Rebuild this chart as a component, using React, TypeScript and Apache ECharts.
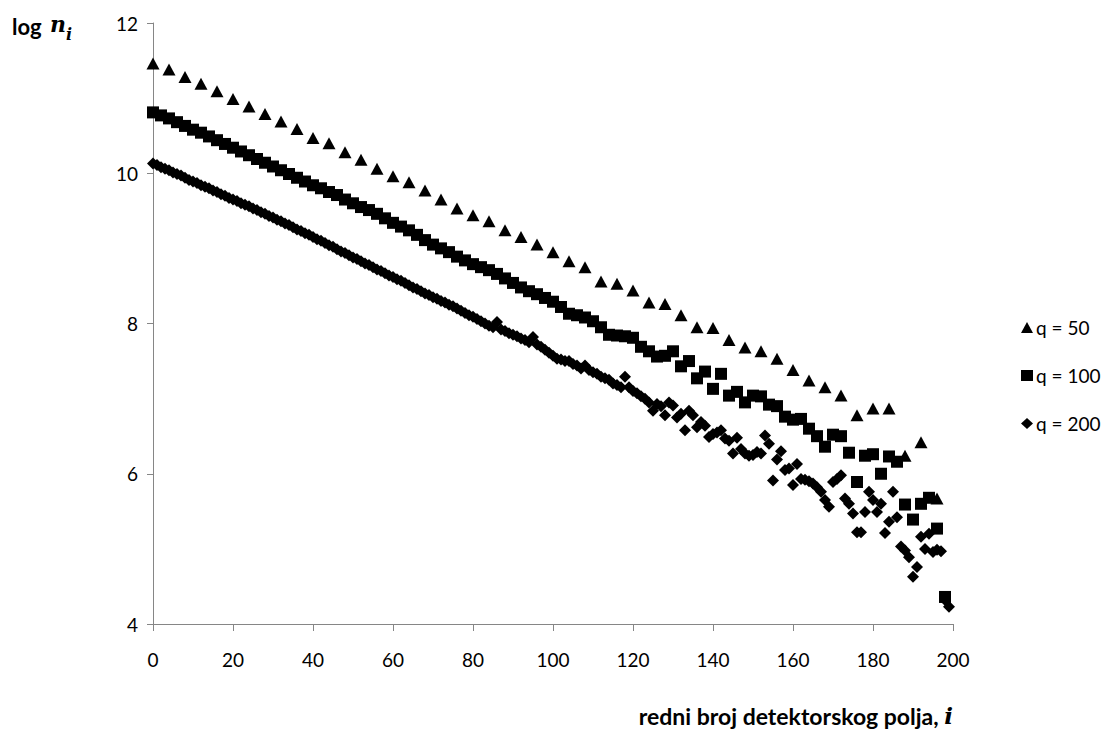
import React, { useEffect, useRef } from "react";
import * as echarts from "echarts";

// x-axis tick labels: 0..200 step 20; y-axis: 4..12 step 2
const xTicks = [0, 20, 40, 60, 80, 100, 120, 140, 160, 180, 200];
const yTicks = [4, 6, 8, 10, 12];

const seriesNames = ["q = 50", "q = 100", "q = 200"];
const seriesSteps = [4, 2, 1]; // detector-field index spacing per series

// q = 50 (triangles), i = 0, 4, ..., 196
const q50 = [
  11.46, 11.38, 11.28, 11.19, 11.09, 10.99, 10.89, 10.79, 10.69, 10.59,
  10.47, 10.4, 10.28, 10.18, 10.06, 9.96, 9.88, 9.77, 9.65, 9.53,
  9.44, 9.36, 9.24, 9.15, 9.05, 8.95, 8.83, 8.75, 8.56, 8.53,
  8.44, 8.28, 8.26, 8.11, 7.95, 7.94, 7.78, 7.68, 7.63, 7.53,
  7.38, 7.24, 7.15, 7.04, 6.78, 6.87, 6.87, 6.24, 6.42, 5.67,
];

// q = 100 (squares), i = 0, 2, ..., 198
const q100 = [
  10.81, 10.77, 10.73, 10.68, 10.63, 10.58, 10.54, 10.49, 10.44, 10.39,
  10.34, 10.29, 10.24, 10.19, 10.14, 10.09, 10.04, 9.99, 9.94, 9.89,
  9.84, 9.8, 9.75, 9.71, 9.65, 9.6, 9.55, 9.51, 9.46, 9.4,
  9.34, 9.29, 9.24, 9.18, 9.11, 9.05, 9.0, 8.95, 8.89, 8.84,
  8.79, 8.75, 8.71, 8.66, 8.6, 8.54, 8.48, 8.43, 8.39, 8.34,
  8.29, 8.22, 8.13, 8.11, 8.08, 8.03, 7.95, 7.85, 7.84, 7.83,
  7.81, 7.69, 7.63, 7.56, 7.57, 7.63, 7.43, 7.5, 7.27, 7.36,
  7.13, 7.33, 7.04, 7.09, 6.95, 7.04, 7.03, 6.92, 6.9, 6.76,
  6.72, 6.73, 6.6, 6.5, 6.36, 6.52, 6.5, 6.28, 5.89, 6.24,
  6.26, 6.0, 6.23, 6.16, 5.59, 5.39, 5.6, 5.68, 5.27, 4.36,
];

// q = 200 (diamonds), i = 0, 1, ..., 199
const q200 = [
  10.13, 10.11, 10.08, 10.06, 10.04, 10.01, 9.99, 9.97, 9.94, 9.91,
  9.89, 9.87, 9.84, 9.82, 9.8, 9.77, 9.75, 9.72, 9.7, 9.67,
  9.65, 9.63, 9.6, 9.58, 9.56, 9.53, 9.51, 9.48, 9.46, 9.43,
  9.41, 9.38, 9.36, 9.33, 9.31, 9.28, 9.25, 9.23, 9.2, 9.18,
  9.15, 9.12, 9.1, 9.07, 9.04, 9.02, 8.99, 8.96, 8.94, 8.91,
  8.88, 8.86, 8.83, 8.8, 8.78, 8.75, 8.72, 8.7, 8.67, 8.64,
  8.62, 8.59, 8.57, 8.54, 8.51, 8.48, 8.46, 8.43, 8.4, 8.38,
  8.35, 8.33, 8.3, 8.28, 8.25, 8.23, 8.2, 8.17, 8.14, 8.11,
  8.09, 8.06, 8.03, 8.0, 7.97, 7.95, 8.02, 7.92, 7.9, 7.87,
  7.85, 7.83, 7.8, 7.78, 7.75, 7.82, 7.72, 7.69, 7.65, 7.61,
  7.57, 7.53, 7.52, 7.5, 7.5, 7.46, 7.44, 7.4, 7.44, 7.38,
  7.35, 7.33, 7.29, 7.27, 7.25, 7.2, 7.18, 7.15, 7.29, 7.15,
  7.1, 7.07, 7.03, 7.0, 6.95, 6.84, 6.93, 6.9, 6.78, 6.95,
  6.91, 6.75, 6.8, 6.58, 6.84, 6.78, 6.62, 6.69, 6.64, 6.49,
  6.53, 6.55, 6.58, 6.47, 6.44, 6.27, 6.48, 6.33, 6.27, 6.24,
  6.25, 6.29, 6.27, 6.51, 6.4, 5.91, 6.19, 6.3, 6.05, 6.07,
  5.85, 6.13, 5.93, 5.92, 5.9, 5.87, 5.82, 5.76, 5.65, 5.56,
  5.89, 5.93, 5.98, 5.67, 5.6, 5.47, 5.22, 5.22, 5.49, 5.76,
  5.65, 5.49, 5.6, 5.21, 5.36, 5.76, 5.42, 5.03, 4.98, 4.89,
  4.63, 4.76, 5.16, 5.0, 5.2, 4.96, 4.99, 4.97, 4.32, 4.23,
];

const seriesValues = [q50, q100, q200];
const symbols = ["triangle", "rect", "diamond"];
const symbolSizes: any[] = [[13, 12], [12, 12], [12, 12]];

const FONT = "Lato, 'Open Sans', sans-serif";

export default function App() {
  const ref = useRef<HTMLDivElement>(null);

  useEffect(() => {
    if (!ref.current) return;
    const chart = echarts.init(ref.current, null, { renderer: "svg" });
    const series = seriesValues.map((vals, s) => ({
      name: seriesNames[s],
      type: "scatter",
      symbol: symbols[s],
      symbolSize: symbolSizes[s],
      itemStyle: { color: "#000000", opacity: 1 },
      data: vals.map((v, i) => [i * seriesSteps[s], v]),
    }));
    chart.setOption({
      animation: false,
      backgroundColor: "#ffffff",
      grid: { left: 153, right: 166, top: 23, bottom: 118, containLabel: false },
      xAxis: {
        type: "value",
        min: xTicks[0],
        max: xTicks[xTicks.length - 1],
        interval: 20,
        axisLine: { show: true, onZero: false, lineStyle: { color: "#868686", width: 1 } },
        axisTick: { show: true, length: 7, lineStyle: { color: "#868686" } },
        splitLine: { show: false },
        axisLabel: { color: "#000", fontFamily: FONT, fontSize: 19, margin: 26 },
      },
      yAxis: {
        type: "value",
        min: yTicks[0],
        max: yTicks[yTicks.length - 1],
        interval: 2,
        axisLine: { show: true, onZero: false, lineStyle: { color: "#868686", width: 1 } },
        axisTick: { show: true, length: 6, lineStyle: { color: "#868686" } },
        splitLine: { show: false },
        axisLabel: { color: "#000", fontFamily: FONT, fontSize: 19, margin: 15 },
      },
      legend: {
        orient: "vertical",
        left: 1016,
        top: 313,
        itemGap: 29,
        itemWidth: 12,
        itemHeight: 11,
        data: seriesNames.map((n, s) => ({ name: n, icon: symbols[s] })),
        textStyle: { color: "#000", fontFamily: FONT, fontSize: 19, padding: [0, 0, 0, -2] },
      },
      graphic: [
        {
          type: "text",
          left: 12,
          top: 15,
          style: { text: "log", fontFamily: FONT, fontWeight: "bold", fontSize: 22, fill: "#000" },
        },
        {
          type: "text",
          left: 50,
          top: 13,
          style: {
            text: "n",
            fontFamily: "'DejaVu Serif', serif",
            fontStyle: "italic",
            fontWeight: "bold",
            fontSize: 22,
            fill: "#000",
          },
        },
        {
          type: "text",
          left: 66,
          top: 26,
          style: {
            text: "i",
            fontFamily: "'DejaVu Serif', serif",
            fontStyle: "italic",
            fontWeight: "bold",
            fontSize: 16,
            fill: "#000",
          },
        },
        {
          type: "text",
          right: 166,
          top: 704,
          style: {
            text: "{a|redni broj detektorskog polja, }{b|i}",
            rich: {
              a: { fontFamily: FONT, fontWeight: "bold", fontSize: 23, fill: "#000" },
              b: {
                fontFamily: "'DejaVu Serif', serif",
                fontStyle: "italic",
                fontWeight: "bold",
                fontSize: 23,
                fill: "#000",
              },
            },
          },
        },
      ],
      series,
    });
    return () => chart.dispose();
  }, []);

  return (
    <div
      ref={ref}
      style={{ position: "absolute", left: 0, top: 0, width: 1119, height: 742, background: "#fff" }}
    />
  );
}
